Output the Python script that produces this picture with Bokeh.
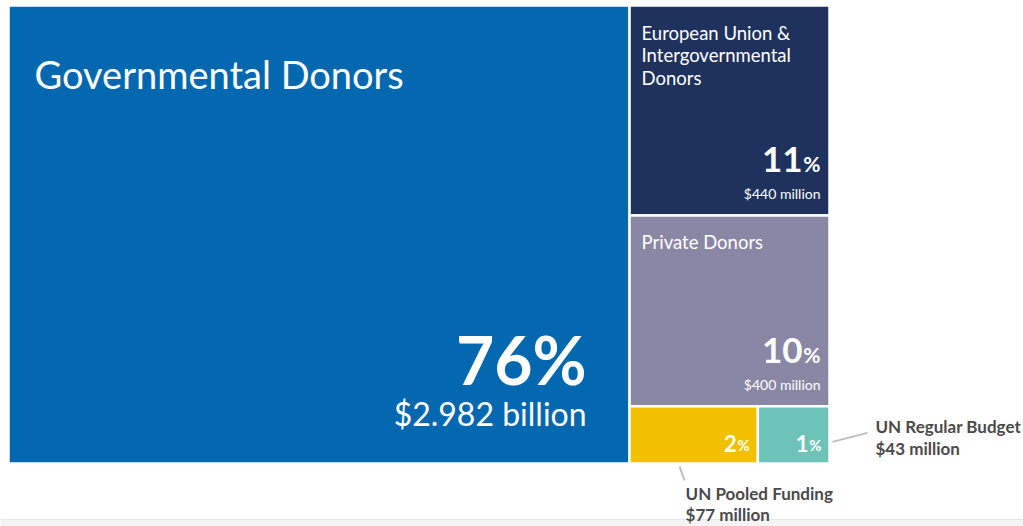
from bokeh.plotting import figure
from bokeh.models import Range1d
from bokeh.core.properties import value
from bokeh.embed import file_html
from bokeh.resources import INLINE

# ---- data ----
names = ["Governmental Donors",
         "European Union &|Intergovernmental|Donors",
         "Private Donors",
         "UN Pooled Funding",
         "UN Regular Budget"]
amounts = [2982, 440, 400, 77, 43]          # million USD
pcts = ["76", "11", "10", "2", "1"]
amount_labels = ["$2.982 billion", "$440 million", "$400 million",
                 "$77 million", "$43 million"]
colors = ["#0468B1", "#1F315D", "#8A87A5", "#F3C000", "#6EC3B8"]

FONT = value("Lato")
W, H = 1023, 526
X0, Y0 = 8, 5
TW, TH = 821, 458   # treemap area in pixels

# ---- treemap layout (slice: big tile | column of others, last two in a row) ----
total = sum(amounts)
gov_w = TW * amounts[0] / total
rest = sum(amounts[1:])
col_x0, col_x1 = X0 + gov_w, X0 + TW
tiles = [(X0, X0 + gov_w, Y0, Y0 + TH)]
y = float(Y0)
for a in amounts[1:3]:
    h = TH * a / rest
    tiles.append((col_x0, col_x1, y, y + h))
    y += h
row_total = sum(amounts[3:])
x = col_x0
for a in amounts[3:]:
    w = (col_x1 - col_x0) * a / row_total
    tiles.append((x, x + w, y, Y0 + TH))
    x += w

p = figure(width=W, height=H, output_backend="svg", toolbar_location=None,
           x_range=Range1d(0, W), y_range=Range1d(H, 0), min_border=0,
           outline_line_color=None, background_fill_color="white")
p.axis.visible = False
p.grid.visible = False

# faint page strip at bottom
p.quad(left=[0], right=[W], top=[519], bottom=[H], fill_color="#F4F4F4", line_color=None)
p.segment(x0=[0], x1=[W], y0=[519], y1=[519], line_color="#E6E6E6", line_width=1)

p.quad(left=[t[0] for t in tiles], right=[t[1] for t in tiles],
       top=[t[2] for t in tiles], bottom=[t[3] for t in tiles],
       fill_color=colors, line_color="white", line_width=2.5)

# ---- governmental donors ----
l, r, t, b = tiles[0]
p.text(x=[l + 26], y=[t + 68], text=[names[0]], text_font=FONT, text_font_size="38px",
       text_color="white", text_baseline="middle", text_align="left")
p.text(x=[r - 43], y=[b - 104], text=[pcts[0] + "%"], text_font=FONT, text_font_size="66px",
       text_font_style="bold", text_color="white", text_baseline="middle", text_align="right")
p.text(x=[r - 43], y=[b - 50], text=[amount_labels[0]], text_font=FONT, text_font_size="32px",
       text_color="white", text_baseline="middle", text_align="right")

# ---- EU and private ----
for i in (1, 2):
    l, r, t, b = tiles[i]
    lines = names[i].split("|")
    p.text(x=[l + 12] * len(lines), y=[t + 27 + 22.5 * k for k in range(len(lines))],
           text=lines, text_font=FONT, text_font_size="18.5px", text_color="white",
           text_baseline="middle", text_align="left")
    p.text(x=[r - 27], y=[b - 56], text=[pcts[i]], text_font=FONT, text_font_size="35px",
           text_font_style="bold", text_color="white", text_baseline="middle", text_align="right")
    p.text(x=[r - 9], y=[b - 52], text=["%"], text_font=FONT, text_font_size="21px",
           text_font_style="bold", text_color="white", text_baseline="middle", text_align="right")
    p.text(x=[r - 9], y=[b - 22], text=[amount_labels[i]], text_font=FONT, text_font_size="14px",
           text_color="white", text_baseline="middle", text_align="right")

# ---- small tiles ----
for i in (3, 4):
    l, r, t, b = tiles[i]
    p.text(x=[r - 21], y=[b - 20], text=[pcts[i]], text_font=FONT, text_font_size="22px",
           text_font_style="bold", text_color="white", text_baseline="middle", text_align="right")
    p.text(x=[r - 8], y=[b - 19], text=["%"], text_font=FONT, text_font_size="15px",
           text_font_style="bold", text_color="white", text_baseline="middle", text_align="right")

# ---- callouts ----
l, r, t, b = tiles[4]
p.segment(x0=[r + 3], y0=[(t + b) / 2 + 7], x1=[r + 38], y1=[(t + b) / 2 - 2],
          line_color="#BDBDBD", line_width=2)
p.text(x=[r + 46, r + 46], y=[(t + b) / 2 - 8, (t + b) / 2 + 14],
       text=[names[4], amount_labels[4]], text_font=FONT, text_font_size="17px",
       text_font_style="bold", text_color="#4A4A4A", text_baseline="middle", text_align="left")

l, r, t, b = tiles[3]
p.segment(x0=[l + 50], y0=[b + 3], x1=[l + 55], y1=[b + 17],
          line_color="#BDBDBD", line_width=2)
p.text(x=[l + 56, l + 56], y=[b + 30, b + 51],
       text=[names[3], amount_labels[3]], text_font=FONT, text_font_size="17px",
       text_font_style="bold", text_color="#4A4A4A", text_baseline="middle", text_align="left")

open("out.html", "w").write(file_html(p, INLINE))
